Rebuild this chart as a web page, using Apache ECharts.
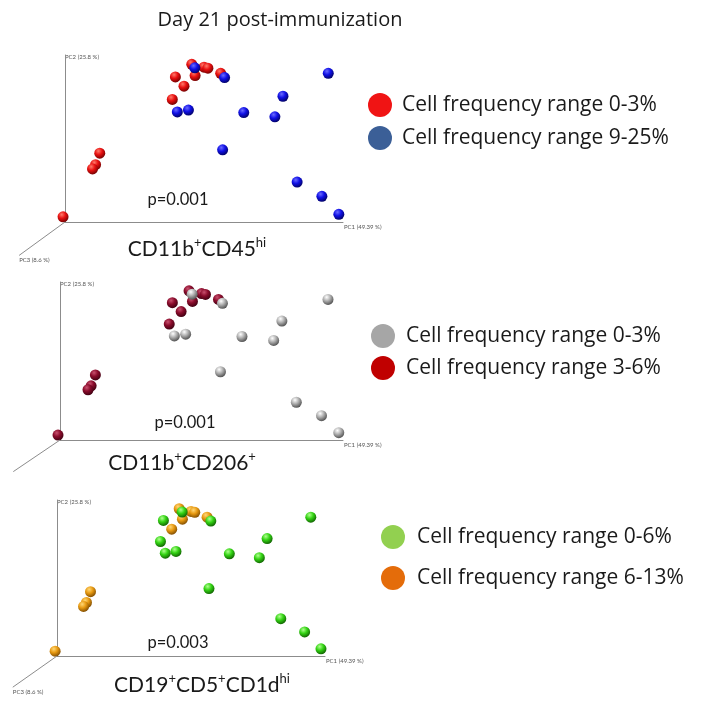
<!DOCTYPE html>
<html>
<head>
<meta charset="utf-8">
<script src="https://cdn.jsdelivr.net/npm/echarts@6/dist/echarts.min.js"></script>
<style>
html,body{margin:0;padding:0;background:#fff;}
#chart{width:704px;height:708px;}
</style>
</head>
<body>
<div id="chart"></div>
<script>
// ---- data (projected PCoA scores, axis-length units) ----
const pc1Scores = [0.456, 0.500, 0.514, 0.397, 0.468, 0.560, 0.428, 0.386, 0.125, 0.110, 0.099, -0.007,
                   0.467, 0.574, 0.947, 0.784, 0.404, 0.444, 0.643, 0.755, 0.567, 0.835, 0.924, 0.985];
const pc2Scores = [0.944, 0.927, 0.921, 0.869, 0.877, 0.890, 0.813, 0.734, 0.412, 0.343, 0.318, 0.031,
                   0.923, 0.865, 0.890, 0.753, 0.659, 0.670, 0.655, 0.630, 0.432, 0.239, 0.154, 0.046];
// group membership per panel (0 = drawn first, 1 = drawn on top)
const groupCD45  = [0,0,0,0,0,0,0,0,0,0,0,0, 1,1,1,1,1,1,1,1,1,1,1,1];
const groupCD206 = [0,0,0,0,0,0,0,0,0,0,0,0, 1,1,1,1,1,1,1,1,1,1,1,1];
const groupCD1d  = [0,0,0,1,0,0,0,1,0,0,0,0, 1,1,1,1,1,1,1,1,1,1,1,1];

// projected end of the PC3 (depth) axis, in the same units
const pc3End = [-0.165, -0.2];
const axisNames = ['PC1 (49.39 %)', 'PC2 (25.8 %)', 'PC3 (8.6 %)'];

const mainTitle = 'Day 21 post-immunization';
const pValues = ['p=0.001', 'p=0.001', 'p=0.003'];
const panelLabels = ['{n|CD11b}{s|+}{n|CD45}{s|hi}', '{n|CD11b}{s|+}{n|CD206}{s|+}', '{n|CD19}{s|+}{n|CD5}{s|+}{n|CD1d}{s|hi}'];

// legend entries per panel: [name, group index]
const legendCD45  = [['Cell frequency range 0-3%', 0], ['Cell frequency range 9-25%', 1]];
const legendCD206 = [['Cell frequency range 0-3%', 1], ['Cell frequency range 3-6%', 0]];
const legendCD1d  = [['Cell frequency range 0-6%', 1], ['Cell frequency range 6-13%', 0]];

// ---- styling ----
function sphere(light, base, dark) {
  return {type: 'radial', x: 0.38, y: 0.3, r: 0.75,
    colorStops: [{offset: 0, color: light}, {offset: 0.45, color: base}, {offset: 1, color: dark}]};
}
const panels = [
  {groups: groupCD45, legend: legendCD45, showPC3: true,
   grid: {left: 65, top: 55, width: 278, height: 167},
   sphere: [sphere('#ff7a6a', '#e81010', '#6a0000'), sphere('#6a6aff', '#1010e6', '#00005a')],
   flat: ['#f01414', '#3b5f97'],
   legendPos: {left: 368, top: 93, itemGap: 9, pad: 5},
   pPos: [178, 200], labelPos: [197, 249]},
  {groups: groupCD206, legend: legendCD206, showPC3: false,
   grid: {left: 60, top: 282, width: 283, height: 158},
   sphere: [sphere('#c8506e', '#8a0c2c', '#3a0010'), sphere('#ffffff', '#b0b0b0', '#4a4a4a')],
   flat: ['#c00000', '#a6a6a6'],
   legendPos: {left: 371, top: 324, itemGap: 8, pad: 6},
   pPos: [185, 423], labelPos: [182, 463]},
  {groups: groupCD1d, legend: legendCD1d, showPC3: true,
   grid: {left: 57, top: 500, width: 268, height: 156},
   sphere: [sphere('#ffd878', '#e89a12', '#7a4800'), sphere('#b0ff90', '#34d414', '#0e5a00')],
   flat: ['#e46c0a', '#92d050'],
   legendPos: {left: 381, top: 525, itemGap: 17, pad: 7},
   pPos: [178, 643], labelPos: [202, 685]}
];

const FONT = 'Lato';
const LFONT = 'Open Sans';
const axisColor = '#8c8c8c';
const option = {
  backgroundColor: '#fff',
  animation: false,
  grid: [], xAxis: [], yAxis: [], series: [], legend: [], graphic: []
};

panels.forEach((p, i) => {
  const gMain = option.grid.length;
  option.grid.push(Object.assign({containLabel: false}, p.grid));
  // helper grid for the depth axis (same scale, extending below-left of the origin)
  const dw = p.grid.width * -pc3End[0], dh = p.grid.height * -pc3End[1];
  const gDepth = option.grid.length;
  option.grid.push({left: p.grid.left - dw, top: p.grid.top + p.grid.height, width: dw, height: dh});

  const xMain = option.xAxis.length, yMain = option.yAxis.length;
  option.xAxis.push({
    gridIndex: gMain, type: 'value', min: 0, max: 1,
    axisLine: {show: true, onZero: false, lineStyle: {color: axisColor, width: 1}},
    axisTick: {show: false}, axisLabel: {show: false}, splitLine: {show: false},
    name: axisNames[0], nameLocation: 'end', nameGap: 1,
    nameTextStyle: {fontSize: 6, color: '#555', fontFamily: FONT, align: 'left', verticalAlign: 'top', padding: [2, 0, 0, 0]}
  });
  option.yAxis.push({
    gridIndex: gMain, type: 'value', min: 0, max: 1,
    axisLine: {show: true, onZero: false, lineStyle: {color: axisColor, width: 1}},
    axisTick: {show: false}, axisLabel: {show: false}, splitLine: {show: false},
    name: axisNames[1], nameLocation: 'end', nameGap: -5,
    nameTextStyle: {fontSize: 6, color: '#555', fontFamily: FONT, align: 'left', verticalAlign: 'bottom'}
  });
  const xDepth = option.xAxis.length, yDepth = option.yAxis.length;
  option.xAxis.push({gridIndex: gDepth, type: 'value', min: pc3End[0], max: 0, show: false});
  option.yAxis.push({gridIndex: gDepth, type: 'value', min: pc3End[1], max: 0, show: false});
  option.series.push({
    type: 'line', xAxisIndex: xDepth, yAxisIndex: yDepth, silent: true, clip: false,
    symbol: 'circle', symbolSize: 0.1, showSymbol: true,
    lineStyle: {color: axisColor, width: 1}, itemStyle: {color: axisColor},
    label: {show: false},
    data: [[0, 0], {value: pc3End, label: {show: p.showPC3, formatter: axisNames[2], position: 'bottom',
      align: 'left', distance: 2, fontSize: 6, color: '#555', fontFamily: FONT}}]
  });
  // scatter groups: group 0 first, group 1 on top
  [0, 1].forEach(g => {
    const entry = p.legend.find(e => e[1] === g);
    const data = [];
    pc1Scores.forEach((x, k) => { if (p.groups[k] === g) data.push([x, pc2Scores[k]]); });
    option.series.push({
      type: 'scatter', name: entry[0], xAxisIndex: xMain, yAxisIndex: yMain,
      clip: false, symbol: 'circle', symbolSize: 11,
      itemStyle: {color: p.sphere[g], opacity: 1},
      data: data
    });
  });
  option.legend.push({
    orient: 'vertical', left: p.legendPos.left, top: p.legendPos.top,
    itemGap: p.legendPos.itemGap, itemWidth: 24, itemHeight: 24, icon: 'circle',
    selectedMode: false, padding: 0,
    textStyle: {fontFamily: LFONT, fontSize: 21, color: '#1a1a1a', padding: [0, 0, 0, p.legendPos.pad]},
    data: p.legend.map(e => ({name: e[0], itemStyle: {color: p.flat[e[1]]}}))
  });
  option.graphic.push({
    type: 'text', x: p.pPos[0], y: p.pPos[1],
    style: {text: pValues[i], fontFamily: FONT, fontSize: 16.5, fill: '#1a1a1a', align: 'center', verticalAlign: 'middle'}
  });
  option.graphic.push({
    type: 'text', x: p.labelPos[0], y: p.labelPos[1],
    style: {text: panelLabels[i], align: 'center', verticalAlign: 'middle',
      rich: {
        n: {fontFamily: FONT, fontSize: 21, lineHeight: 26, fill: '#1a1a1a'},
        s: {fontFamily: FONT, fontSize: 13, lineHeight: 13, fill: '#1a1a1a', verticalAlign: 'top'}
      }}
  });
});
option.graphic.push({
  type: 'text', x: 280, y: 20,
  style: {text: mainTitle, fontFamily: LFONT, fontSize: 20, fill: '#1a1a1a', align: 'center', verticalAlign: 'middle'}
});

const chart = echarts.init(document.getElementById('chart'), null, {renderer: 'canvas'});
chart.setOption(option);
</script>
</body>
</html>
